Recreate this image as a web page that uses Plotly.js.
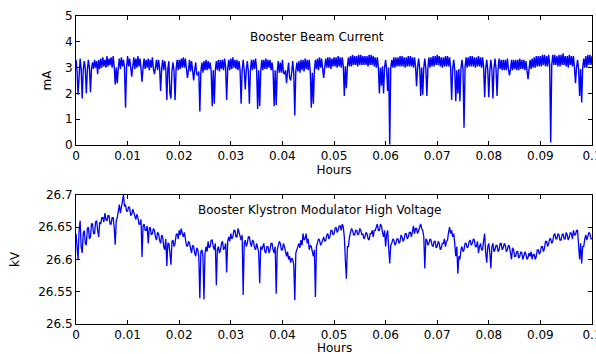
<!DOCTYPE html>
<html>
<head>
<meta charset="utf-8">
<script src="https://cdn.plot.ly/plotly-3.0.1.min.js"></script>
<style>html,body{margin:0;padding:0;background:#fff;}#chart{width:596px;height:354px;}</style>
</head>
<body>
<div id="chart"></div>
<script>
// sample interval of the logged signals, in hours
const sampleInterval = 0.0002;

// Booster beam current, mA
const beamCurrent = [
3.3,2.9,1.95,3.0,3.35,2.95,1.8,2.9,3.25,2.95,2.0,2.9,3.3,3.0,2.05,2.95,3.2,2.95,3.3,3.0,
3.25,2.75,3.3,2.95,3.35,3.0,3.4,3.05,3.3,3.0,3.45,3.05,3.35,3.1,3.4,3.0,3.45,3.05,2.35,3.0,
2.4,3.0,3.35,2.95,3.4,3.05,3.3,3.0,1.45,3.0,3.45,3.05,3.35,3.0,2.65,3.05,3.4,2.95,3.35,3.0,
3.45,3.05,3.35,2.95,2.45,3.0,3.35,2.95,3.3,3.0,3.35,2.9,3.3,3.0,3.4,2.95,2.75,3.0,3.3,2.9,
3.3,3.0,2.1,2.95,3.3,2.9,3.25,2.95,1.75,2.95,3.25,2.0,1.8,2.9,3.2,2.85,1.75,2.95,3.3,2.9,
3.3,2.95,3.35,3.0,3.4,3.0,3.35,2.95,2.6,2.9,3.3,2.85,3.25,2.9,2.5,2.9,3.2,2.75,2.7,2.85,
1.3,2.85,3.2,2.8,3.25,2.9,3.3,2.9,3.25,2.95,3.2,2.85,1.5,2.9,1.6,2.9,3.25,2.9,3.3,2.85,
3.3,2.95,3.3,2.9,3.35,3.0,1.75,2.95,3.3,2.9,3.35,2.95,3.4,3.0,3.3,2.95,3.3,2.9,3.25,2.9,
1.6,2.9,3.3,2.9,2.15,2.9,3.25,2.85,1.6,2.9,3.3,2.9,3.3,2.95,3.35,2.95,1.4,2.9,1.5,2.85,
3.3,2.9,3.3,2.95,3.35,2.95,3.3,3.0,3.3,2.9,3.2,2.85,1.5,2.9,1.55,2.85,3.25,2.8,3.2,2.8,
3.3,2.8,2.75,2.9,2.4,2.85,3.2,2.6,2.5,2.8,3.25,2.8,1.15,2.85,3.2,2.85,3.25,2.8,3.3,2.9,
3.3,2.85,3.35,2.95,3.3,2.9,3.3,2.85,1.45,2.8,1.6,2.9,3.3,2.95,3.35,2.9,3.4,3.0,3.35,2.95,
2.6,3.0,3.35,3.0,3.4,3.0,3.4,2.95,3.35,3.05,3.4,3.05,3.4,3.0,3.45,3.05,3.4,3.0,3.4,3.05,
1.9,3.05,2.2,3.05,3.4,3.05,3.45,3.05,3.5,3.1,3.45,3.1,3.45,3.05,3.5,3.1,3.5,3.1,3.45,3.1,
3.45,3.1,3.45,3.05,3.5,3.1,3.5,3.1,3.45,3.05,3.4,3.0,3.4,3.0,2.0,3.0,2.3,3.05,2.0,3.0,
3.3,2.95,2.1,3.0,0.02,3.0,3.3,3.0,3.4,3.0,3.4,3.05,3.4,3.05,3.45,3.05,3.45,3.05,3.4,3.0,
3.4,3.05,3.45,3.05,3.45,3.05,3.4,3.0,3.4,3.05,2.28,3.0,3.35,3.0,1.9,3.0,1.95,3.0,3.35,2.95,
1.9,3.0,3.4,3.0,3.4,3.05,3.45,3.05,3.45,3.1,3.5,3.1,3.45,3.05,3.4,3.0,3.4,3.05,3.45,3.05,
3.45,3.05,3.4,3.0,1.75,2.95,3.3,2.9,1.7,2.9,2.0,2.95,1.7,2.95,3.3,2.95,0.67,3.0,3.4,3.0,
3.4,3.05,3.45,3.05,3.45,3.05,3.4,3.0,3.4,3.05,3.45,3.05,3.4,3.0,3.4,3.0,1.85,2.95,3.3,2.9,
1.85,2.9,3.3,2.9,1.8,2.95,3.35,2.95,1.9,2.95,3.35,2.95,3.3,2.9,3.3,2.9,3.3,2.9,3.35,2.95,
2.7,2.9,3.3,2.9,3.3,2.95,3.3,2.9,3.3,2.9,3.35,2.95,3.3,2.95,3.3,2.9,3.25,2.9,2.55,2.95,
3.3,2.95,3.35,3.0,3.4,3.0,3.45,3.05,3.45,3.05,3.45,3.05,3.5,3.1,3.5,3.05,3.45,3.05,3.5,3.1,
0.1,3.1,3.5,3.1,3.5,3.1,3.45,3.05,3.5,3.05,3.5,3.1,3.55,3.1,3.45,3.05,3.45,3.0,3.5,3.1,
3.45,3.05,3.45,3.0,2.4,3.0,3.3,2.95,1.9,2.95,1.65,3.0,3.35,3.0,3.45,3.0,3.5,3.1,3.5,3.1,
3.45
];

// Booster klystron modulator high voltage, kV
const klystronVoltage = [
26.64,26.62,26.60,26.645,26.66,26.62,26.61,26.64,26.645,26.625,26.622,26.648,26.65,26.632,26.635,26.655,26.655,26.64,26.64,26.658,
26.66,26.645,26.635,26.658,26.655,26.665,26.665,26.658,26.672,26.662,26.66,26.668,26.668,26.655,26.655,26.665,26.665,26.65,26.623,26.66,
26.665,26.675,26.685,26.672,26.68,26.69,26.7,26.682,26.685,26.675,26.675,26.682,26.68,26.668,26.67,26.678,26.672,26.665,26.662,26.67,
26.665,26.655,26.655,26.662,26.604,26.652,26.655,26.645,26.645,26.652,26.625,26.648,26.65,26.638,26.64,26.648,26.645,26.635,26.63,26.642,
26.64,26.63,26.625,26.638,26.635,26.62,26.615,26.632,26.59,26.625,26.625,26.61,26.592,26.628,26.63,26.62,26.625,26.638,26.64,26.632,
26.645,26.638,26.648,26.64,26.635,26.642,26.63,26.622,26.62,26.628,26.625,26.615,26.61,26.622,26.62,26.61,26.605,26.618,26.615,26.605,
26.54,26.612,26.615,26.605,26.538,26.61,26.62,26.612,26.628,26.618,26.62,26.63,26.63,26.62,26.615,26.625,26.56,26.615,26.62,26.61,
26.615,26.625,26.628,26.615,26.618,26.625,26.58,26.628,26.635,26.628,26.64,26.632,26.635,26.645,26.645,26.635,26.635,26.648,26.642,26.632,
26.63,26.638,26.545,26.625,26.63,26.62,26.625,26.635,26.635,26.625,26.62,26.63,26.628,26.618,26.615,26.625,26.62,26.612,26.563,26.62,
26.615,26.622,26.625,26.612,26.61,26.62,26.62,26.61,26.615,26.625,26.625,26.615,26.61,26.62,26.547,26.615,26.62,26.628,26.625,26.615,
26.615,26.625,26.62,26.61,26.605,26.612,26.6,26.605,26.595,26.602,26.6,26.592,26.537,26.61,26.615,26.62,26.625,26.618,26.63,26.622,
26.64,26.63,26.632,26.64,26.625,26.632,26.615,26.622,26.62,26.612,26.605,26.615,26.542,26.62,26.625,26.632,26.63,26.622,26.625,26.632,
26.635,26.628,26.63,26.638,26.64,26.632,26.635,26.645,26.645,26.638,26.64,26.648,26.65,26.642,26.645,26.652,26.652,26.645,26.655,26.65,
26.635,26.6,26.57,26.62,26.62,26.635,26.64,26.648,26.645,26.638,26.638,26.645,26.645,26.638,26.64,26.648,26.645,26.638,26.64,26.632,
26.635,26.642,26.64,26.632,26.63,26.64,26.64,26.645,26.635,26.645,26.645,26.652,26.655,26.645,26.645,26.655,26.652,26.642,26.635,26.645,
26.62,26.638,26.645,26.618,26.594,26.622,26.625,26.632,26.63,26.622,26.625,26.632,26.632,26.625,26.628,26.638,26.635,26.628,26.632,26.64,
26.64,26.632,26.635,26.642,26.642,26.635,26.645,26.652,26.64,26.648,26.648,26.64,26.645,26.652,26.655,26.648,26.645,26.635,26.586,26.632,
26.63,26.622,26.625,26.632,26.63,26.622,26.62,26.628,26.628,26.618,26.62,26.628,26.625,26.615,26.618,26.625,26.625,26.632,26.62,26.628,
26.63,26.642,26.65,26.64,26.645,26.635,26.64,26.625,26.605,26.62,26.578,26.605,26.6,26.615,26.62,26.612,26.615,26.625,26.625,26.618,
26.62,26.628,26.63,26.622,26.625,26.632,26.63,26.62,26.62,26.628,26.61,26.62,26.625,26.615,26.615,26.63,26.64,26.61,26.595,26.62,
26.625,26.61,26.586,26.62,26.625,26.612,26.615,26.622,26.622,26.612,26.615,26.625,26.625,26.615,26.618,26.625,26.622,26.612,26.615,26.622,
26.62,26.61,26.6,26.618,26.615,26.605,26.605,26.612,26.612,26.602,26.605,26.612,26.61,26.6,26.605,26.612,26.608,26.6,26.603,26.61,
26.605,26.612,26.6,26.608,26.608,26.6,26.605,26.615,26.615,26.608,26.612,26.62,26.62,26.612,26.618,26.628,26.628,26.62,26.625,26.632,
26.632,26.625,26.628,26.638,26.64,26.632,26.632,26.64,26.638,26.63,26.63,26.638,26.64,26.632,26.632,26.642,26.638,26.63,26.635,26.642,
26.64,26.632,26.645,26.638,26.638,26.645,26.645,26.62,26.6,26.625,26.594,26.62,26.62,26.632,26.638,26.63,26.635,26.642,26.64,26.632,
26.632
];

const xTickVals = [0,0.01,0.02,0.03,0.04,0.05,0.06,0.07,0.08,0.09,0.1];
const xTickText = ['0','0.01','0.02','0.03','0.04','0.05','0.06','0.07','0.08','0.09','0.1'];
const currentTicks = [0,1,2,3,4,5];
const voltageTicks = [26.5,26.55,26.6,26.65,26.7];
const voltageTickText = ['26.5','26.55','26.6','26.65','26.7'];

const hoursA = beamCurrent.map((v,i)=>+(i*sampleInterval).toFixed(6));
const hoursB = klystronVoltage.map((v,i)=>+(i*sampleInterval).toFixed(6));

const FONT = 'DejaVu Sans, Arial, sans-serif';
const tickFont = {family: FONT, size: 12, color: '#000'};

function xAx(anchor, title){
  return {
    anchor: anchor, range: [0, 0.1], tickvals: xTickVals, ticktext: xTickText,
    ticks: 'inside', ticklen: 4, tickcolor: '#000', mirror: 'allticks',
    showline: true, linecolor: '#000', linewidth: 1, showgrid: false, zeroline: false,
    tickfont: tickFont, automargin: false, ticklabeloverflow: 'allow',
    title: {text: title, font: {family: FONT, size: 12, color: '#000'}, standoff: 3}
  };
}
function yAx(anchor, domain, range, vals, text, title, standoff){
  return {
    anchor: anchor, domain: domain, range: range, tickvals: vals, ticktext: text,
    ticks: 'inside', ticklen: 4, tickcolor: '#000', mirror: 'allticks',
    showline: true, linecolor: '#000', linewidth: 1, showgrid: false, zeroline: false,
    tickfont: tickFont, automargin: false, ticklabeloverflow: 'allow',
    title: {text: title, font: {family: FONT, size: 12, color: '#000'}, standoff: standoff}
  };
}

const data = [
  {x: hoursA, y: beamCurrent, type: 'scatter', mode: 'lines', xaxis: 'x', yaxis: 'y',
   line: {color: '#0000ff', width: 1.4}, hoverinfo: 'skip'},
  {x: hoursB, y: klystronVoltage, type: 'scatter', mode: 'lines', xaxis: 'x2', yaxis: 'y2',
   line: {color: '#0000ff', width: 1.3}, hoverinfo: 'skip'}
];

const layout = {
  width: 596, height: 354,
  margin: {l: 76, r: 4, t: 16, b: 30},
  paper_bgcolor: '#fff', plot_bgcolor: '#fff',
  showlegend: false,
  font: {family: FONT, size: 12, color: '#000'},
  xaxis: xAx('y', 'Hours'),
  yaxis: yAx('x', [0.581, 1], [0, 5], currentTicks, currentTicks.map(String), 'mA', 10),
  xaxis2: xAx('y2', ''),
  yaxis2: yAx('x2', [0, 0.419], [26.5, 26.7], voltageTicks, voltageTickText, 'kV', 16),
  annotations: [
    {text: 'Booster Beam Current', xref: 'paper', yref: 'paper', x: 0.467, y: 0.932,
     xanchor: 'center', yanchor: 'middle', showarrow: false, font: {family: FONT, size: 12, color: '#000'}},
    {text: 'Booster Klystron Modulator High Voltage', xref: 'paper', yref: 'paper', x: 0.473, y: 0.370,
     xanchor: 'center', yanchor: 'middle', showarrow: false, font: {family: FONT, size: 12, color: '#000'}},
    {text: 'Hours', xref: 'paper', yref: 'paper', x: 0.5, y: 0, yshift: -24,
     xanchor: 'center', yanchor: 'middle', showarrow: false, borderpad: 0,
     font: {family: FONT, size: 12, color: '#000'}}
  ]
};

Plotly.newPlot('chart', data, layout, {staticPlot: true, displayModeBar: false});
</script>
</body>
</html>
